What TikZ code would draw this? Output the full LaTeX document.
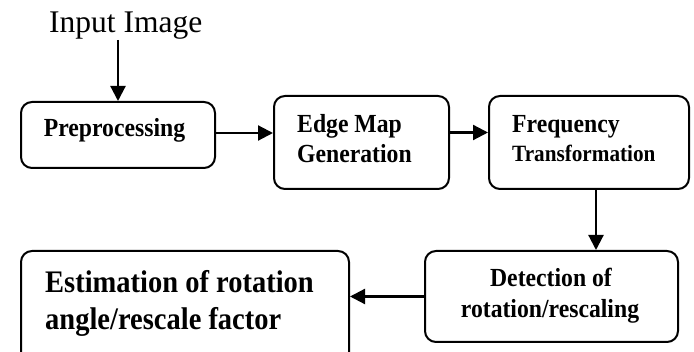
\documentclass[tikz,border=0pt]{standalone}
\usepackage{fontspec}
\usepackage{graphicx}
\setmainfont{Liberation Serif}
\usetikzlibrary{arrows.meta,calc}
\tikzset{
  boxshape/.style={draw=black, line width=2pt, rounded corners=11pt, inner sep=0pt, anchor=north west},
  arr/.style={line width=2.2pt, -{Triangle[length=15pt,width=15pt]}},
  txt/.style={inner sep=0pt, anchor=base west},
  txtc/.style={inner sep=0pt, anchor=base},
}
\newcommand{\fsz}[1]{\fontsize{#1}{#1}\selectfont}
\newcommand{\tall}[1]{\scalebox{1}[1.1]{#1}}
\begin{document}
\begin{tikzpicture}[x=1pt,y=-1pt]
\clip (0,0) rectangle (694,352);
\useasboundingbox (0,0) rectangle (694,352);
% boxes
\node[boxshape, minimum width=194pt, minimum height=66pt] (pre) at (20,101) {};
\node[boxshape, minimum width=175pt, minimum height=93pt] (edge) at (273,95) {};
\node[boxshape, minimum width=200pt, minimum height=93pt] (freq) at (488,95) {};
\node[boxshape, minimum width=253pt, minimum height=91pt] (det) at (424,250) {};
\node[boxshape, minimum width=328pt, minimum height=112pt] (est) at (20,250) {};
% texts
\node[txt] (inp) at (49,33) {\fsz{31.5}Input Image};
\node[txtc] (pret) at (114.5,137) {\fsz{23.7}\bfseries\tall{Preprocessing}};
\node[txt] (edget1) at (297,133) {\fsz{23.7}\bfseries\tall{Edge Map}};
\node[txt] (edget2) at (297,163) {\fsz{23.7}\bfseries\tall{Generation}};
\node[txt] (freqt1) at (512,133) {\fsz{23.7}\bfseries\tall{Frequency}};
\node[txt] (freqt2) at (512,162) {\fsz{21.2}\bfseries\tall{Transformation}};
\node[txtc] (dett1) at (551,287) {\fsz{23.7}\bfseries\tall{Detection of}};
\node[txtc] (dett2) at (550,318) {\fsz{23.7}\bfseries\tall{rotation/rescaling}};
\node[txt] (estt1) at (45,293) {\fsz{28.5}\bfseries\tall{Estimation of rotation}};
\node[txt] (estt2) at (45,330) {\fsz{28.5}\bfseries\tall{angle/rescale factor}};
% connectors
\coordinate (inbot) at (pre.north |- 0,40);
\draw[arr] (inbot) -- (pre.north);
\draw[arr] ([yshift=2pt]pre.east) -- ([yshift=2pt]pre.east -| edge.west);
\draw[arr] ([yshift=10pt]edge.east) -- ([yshift=10pt]edge.east -| freq.west);
\draw[arr] ([xshift=7pt]freq.south) -- ([xshift=7pt]freq.south |- det.north);
\draw[arr] (det.west) -- (det.west -| est.east);
\end{tikzpicture}
\end{document}
